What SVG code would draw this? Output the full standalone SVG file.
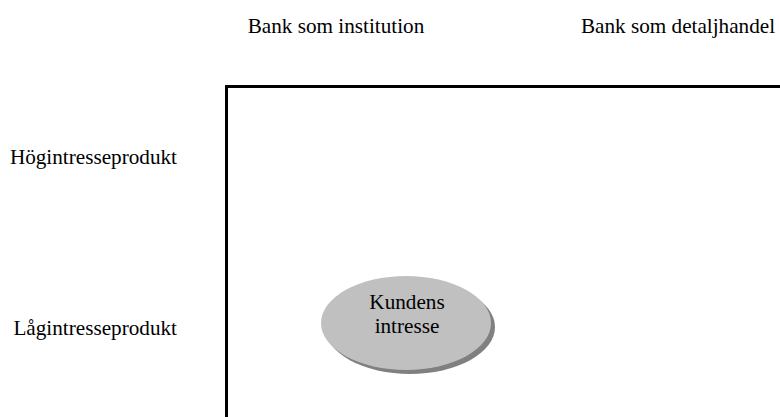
<svg xmlns="http://www.w3.org/2000/svg" width="780" height="417" viewBox="0 0 780 417">
<style>
text{font-family:"Liberation Serif","Times New Roman",serif;font-size:21.2px;fill:#000}
.frame{fill:none;stroke:#000;stroke-width:3}
</style>
<rect width="780" height="417" fill="#fff"/>
<g id="labels">
<text x="336" y="33" text-anchor="middle">Bank som institution</text>
<text x="678" y="33" text-anchor="middle">Bank som detaljhandel</text>
<text x="177" y="164" text-anchor="end">Högintresseprodukt</text>
<text x="177" y="335" text-anchor="end">Lågintresseprodukt</text>
</g>
<g id="frame">
<path class="frame" d="M226.5,417 V86.5 H780"/>
</g>
<g id="kundens">
<ellipse cx="410" cy="327" rx="85" ry="47" fill="#808080"/>
<ellipse cx="406" cy="323" rx="85" ry="47" fill="#c0c0c0"/>
<text x="407" y="309" text-anchor="middle">Kundens</text>
<text x="407" y="333" text-anchor="middle">intresse</text>
</g>
</svg>
